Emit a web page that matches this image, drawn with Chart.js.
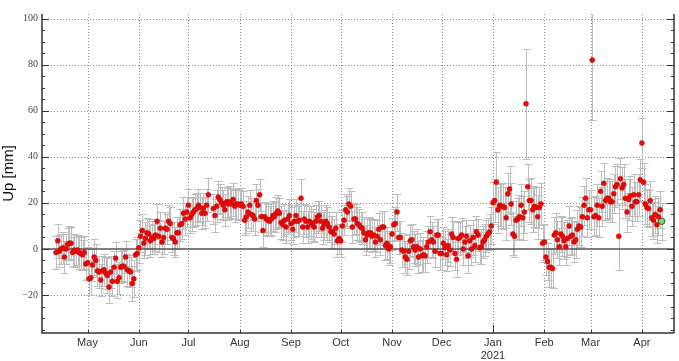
<!DOCTYPE html>
<html>
<head>
<meta charset="utf-8">
<script src="https://cdn.jsdelivr.net/npm/chart.js@4.4.0/dist/chart.umd.min.js"></script>
<style>
    html, body { margin: 0; padding: 0; background: #fff; }
    canvas { display: block; }
</style>
</head>
<body>
<canvas id="upChart" width="679" height="361"></canvas>
<script>
// day numbers count from 2020-04-01; first solution is 2020-04-12
const firstDay = 11;

// daily Up component [mm], one line per month, null = no solution
const upMm = [
    -1.5, 3.5, -1, 0, 0.5, -3.5, 0, 2, 2.5, 2.5, -1.5, -0.5, -1, -0.5, -1.5, -2, -2.5, -1.5, -6.5,
    -6, -13, -12.5, -7, -3.5, -5, -9.5, -10, -13.5, -9.5, -9, -10.5, -11.5, -16.5, -10, -14, -8, -4, -14, -12.5, -8, -7.5, -7.5, -3.5, -9, -9.5, -10, -15, -13, -2.5, -2,
    0.5, 5.5, 8, 2.5, 4.5, 7, 6.5, 3.5, 5, 4.5, 6, 12, 5.5, 9, 3, 5, 9, 8.5, 12, 11, 5, 4.5, 3, 7, 7, 10.5, 11, 15.5, 13, 16,
    19, 13.5, 15, 16, 17, 17.5, 19, 18, 15.5, 17.5, 15.5, 19, 23.5, null, null, 17.5, 14.5, 18.5, 22.5, 21.5, 20, 19, 17, 20.5, 19.5, 20.5, 19.5, 21.5, 18.5, 19.5, 19.5,
    19, 19.5, 18.5, 12.5, 14, 16, 19, 15, 14.5, 13, 21, 19, 23.5, 14, 8, 14, 13, 12.5, 12, 13, 14.5, 14, 15.5, 16.5, 15.5, 11.5, 10.5, 12.5, 9.5, 13, 14.5,
    11, 8.5, 12, 14.5, 12, 12.5, 22, 9.5, 13, 12, 9.5, 12, 11.5, 10.5, 9.5, 12, 14, 14.5, 12, 9, 10.5, 12, 11, 9.5, 7.5, 7.5, 6.5, 9, 3.5, 4.5,
    3.5, 10, 12.5, 17, 16, 19.5, 18.5, 9.5, 13, 13, 11, 10.5, 9.5, 9, 7, 4, 6, 7, 7, 5.5, 6, 3, 5.5, 8.5, 4, 9.5, 9.5, 1.5, 2.5, 0, 1,
    6.5, 10.5, 11, 16, 5, 5, -0.5, -1, -3.5, -4.5, -1, 3.5, 4, 1, -0.5, 1, -3.5, 0, -3, -2.5, -3, 1, 3, 7.5, 4, 3, -1, 6, 6, -2,
    -2, 2.5, 0.5, -2.5, 1.5, -0.5, 6.5, 5, -2, -4.5, 4.5, 5, 6, 0, 3, 5.5, -3, 3.5, 0, 5, 1.5, 7.5, 6, 0.5, 1, 3, 4, 5.5, 6.5, 7.5, 10,
    20, 21, 29, 17, 19, 18.5, 18.5, 18, 13.5, 24, 26, 19.5, 6.5, 5.5, 12.5, 13, 14, 19, 13.5, 16, 63, 27, 21, 21, 17, 18.5, 18, 14, 18, 19.5, 2.5,
    3, -3.5, -5.5, -8, -8, -8.5, 6, 7, 4, 1, 6.5, 5.5, 3.5, 1, 4.5, 10, 5.5, 6, 3, 4, 8.5, 10, 9.5, 14, 19, 22, 13.5, 17,
    17, 82, 14, 14.5, 19, 13.5, 25, 18.5, 28.5, 21, 22, 22, 20.5, 20.5, 24, 27, 28, 5.5, 30.5, 26.5, 28, 22, 16, 21.5, 23, 18.5, 23.5, 20.5, 20.5, 23.5, 30,
    46, 29, 19.5, 18, 17.5, 21, 13.5, 12.5, 15, 10.5, 14, 17, 12
];

// 1-sigma error [mm] for each day above
const sigmaMm = [
    7, 7.5, 7, 6.5, 7, 7, 6.5, 7, 7.5, 7, 6.5, 7, 7, 6.5, 7, 7, 6.5, 7, 7,
    7, 7, 7.5, 7, 8, 7, 6.5, 7, 7, 6.5, 7, 7, 7.5, 7, 7, 6.5, 7, 7, 7.5, 7, 7, 6.5, 7, 7, 7, 7, 6.5, 7.5, 8, 7, 7,
    6.5, 7, 7, 6.5, 7, 6.5, 6.5, 7, 7, 6.5, 7, 7.5, 7, 7, 6.5, 7, 7, 6.5, 7, 7, 6.5, 7, 6.5, 7, 7, 7, 6.5, 7, 7, 6.5,
    7, 6.5, 7, 6.5, 7, 7, 7, 6.5, 7, 7, 6.5, 7, 7.5, null, null, 6.5, 7, 7, 7, 6.5, 7, 6.5, 7, 6.5, 7, 7, 6.5, 7, 7, 6.5, 7,
    6.5, 7, 6.5, 6.5, 7, 7, 6.5, 7, 6.5, 7, 7, 7, 7, 6.5, 7, 6.5, 7, 7, 6.5, 7, 6.5, 6.5, 7, 7, 6.5, 7, 6.5, 7, 7, 6.5, 7,
    7, 6.5, 7, 7, 6.5, 7, 8.5, 7, 6.5, 7, 7, 6.5, 7, 7, 6.5, 7, 7, 6.5, 7, 7, 6.5, 7, 7, 6.5, 7, 7, 6.5, 7, 7, 6.5,
    7, 7, 6.5, 7, 7, 7, 6.5, 7, 7, 6.5, 7, 7, 6.5, 7, 7, 6.5, 7, 7, 6.5, 7, 7, 6.5, 7, 7, 6.5, 7, 7, 6.5, 7, 7, 7,
    7, 7, 7, 8, 7, 7, 7.5, 7, 7, 7, 7.5, 7, 7, 7, 7, 7.5, 7, 7, 7, 7.5, 7, 7, 7, 7, 7.5, 7, 7, 7, 7, 7,
    7, 7, 7.5, 7, 7, 7, 7.5, 7, 7, 7.5, 7, 7, 7.5, 7, 7, 7, 7.5, 7, 7, 7.5, 7, 7, 7, 7, 7.5, 7, 7, 7, 7, 7.5, 8,
    9, 9.5, 13, 10, 9, 9.5, 10, 9, 9.5, 9, 10, 9, 9, 9, 8.5, 9, 9.5, 9, 9.5, 9, 24, 10, 9.5, 10, 9.5, 9, 9, 9.5, 9, 9, 8,
    8, 8, 8, 8.5, 8.5, 8.5, 8, 8.5, 8, 8, 8, 8.5, 8, 8, 8, 8.5, 8, 8, 8.5, 8, 8.5, 8.5, 8.5, 8.5, 8.5, 9, 8.5, 8.5,
    8.5, 26, 8.5, 8.5, 9, 8.5, 9, 8.5, 9, 8.5, 9, 8.5, 9, 9, 8.5, 9, 9, 14.5, 9, 9, 9, 8.5, 8.5, 9, 8.5, 8.5, 9, 8.5, 8.5, 9, 9,
    11, 8.5, 8.5, 8, 8, 8.5, 8, 8, 8, 8, 8, 8, 8
];

const monthTickDays = [30, 61, 91, 122, 153, 183, 214, 244, 275, 306, 334, 365];
const monthTickLabels = ['May', 'Jun', 'Jul', 'Aug', 'Sep', 'Oct', 'Nov', 'Dec', 'Jan', 'Feb', 'Mar', 'Apr'];
const yearTickDay = 275;
const yearLabel = '2021';
const yTickValues = [-20, 0, 20, 40, 60, 80, 100];
const yMinorStep = 5;

const points = [];
upMm.forEach((v, i) => {
    if (v !== null) points.push({ x: firstDay + i, y: v, err: sigmaMm[i] });
});
const latest = points.pop();

const gridPlugin = {
    id: 'dottedGrid',
    beforeDatasetsDraw(chart) {
        const { ctx, chartArea: a, scales: { x, y } } = chart;
        ctx.save();
        ctx.strokeStyle = '#8c8c8c';
        ctx.lineWidth = 1;
        ctx.setLineDash([1, 2]);
        ctx.beginPath();
        yTickValues.forEach(v => {
            if (v === 0) return;
            const py = Math.round(y.getPixelForValue(v)) + 0.5;
            ctx.moveTo(a.left, py);
            ctx.lineTo(a.right, py);
        });
        monthTickDays.forEach(d => {
            const px = Math.round(x.getPixelForValue(d)) + 0.5;
            ctx.moveTo(px, a.top);
            ctx.lineTo(px, a.bottom);
        });
        ctx.stroke();
        ctx.restore();
    }
};

const errorBarPlugin = {
    id: 'errorBars',
    beforeDatasetsDraw(chart) {
        const { ctx, chartArea: a, scales: { x, y } } = chart;
        ctx.save();
        ctx.beginPath();
        ctx.rect(a.left, a.top, a.width, a.height);
        ctx.clip();
        ctx.strokeStyle = '#bdbdbd';
        ctx.lineWidth = 1;
        ctx.beginPath();
        chart.data.datasets.forEach(ds => {
            ds.data.forEach(p => {
                const px = Math.round(x.getPixelForValue(p.x)) + 0.5;
                const top = Math.round(y.getPixelForValue(p.y + p.err)) + 0.5;
                const bot = Math.round(y.getPixelForValue(p.y - p.err)) + 0.5;
                ctx.moveTo(px, top);
                ctx.lineTo(px, bot);
                ctx.moveTo(px - 4, top);
                ctx.lineTo(px + 4, top);
                ctx.moveTo(px - 4, bot);
                ctx.lineTo(px + 4, bot);
            });
        });
        ctx.stroke();
        // zero line
        const y0 = y.getPixelForValue(0);
        ctx.strokeStyle = '#555';
        ctx.lineWidth = 1.5;
        ctx.beginPath();
        ctx.moveTo(a.left, y0);
        ctx.lineTo(a.right, y0);
        ctx.stroke();
        ctx.restore();
    }
};

const framePlugin = {
    id: 'frame',
    afterDraw(chart) {
        const { ctx, chartArea: a, scales: { x, y } } = chart;
        ctx.save();
        ctx.strokeStyle = '#333';
        ctx.lineWidth = 1.5;
        ctx.beginPath();
        ctx.moveTo(a.left, a.top);
        ctx.lineTo(a.left, a.bottom);
        ctx.lineTo(a.right, a.bottom);
        ctx.moveTo(a.right, a.top);
        ctx.lineTo(a.right, a.bottom);
        ctx.stroke();

        ctx.lineWidth = 1;
        ctx.beginPath();
        for (let v = Math.ceil(y.min / yMinorStep) * yMinorStep; v <= y.max; v += yMinorStep) {
            const py = Math.round(y.getPixelForValue(v)) + 0.5;
            const len = yTickValues.includes(v) ? 7 : 3;
            ctx.moveTo(a.left, py);
            ctx.lineTo(a.left + len, py);
            ctx.moveTo(a.right, py);
            ctx.lineTo(a.right - len, py);
        }
        monthTickDays.forEach(d => {
            const px = Math.round(x.getPixelForValue(d)) + 0.5;
            const len = d === yearTickDay ? 8 : 3;
            ctx.moveTo(px, a.bottom);
            ctx.lineTo(px, a.bottom - len);
        });
        ctx.stroke();
        ctx.restore();
    }
};

new Chart(document.getElementById('upChart'), {
    type: 'scatter',
    data: {
        datasets: [
            {
                data: points,
                pointRadius: 2.5,
                pointBackgroundColor: '#e50a0a',
                pointBorderColor: '#d00000',
                pointBorderWidth: 0.5
            },
            {
                data: [latest],
                pointRadius: 3.2,
                pointBackgroundColor: '#7fd66e',
                pointBorderColor: '#2f5f2f',
                pointBorderWidth: 1
            }
        ]
    },
    options: {
        responsive: false,
        animation: false,
        events: [],
        layout: { padding: { left: 0, top: 14, right: 1, bottom: 0 } },
        plugins: {
            legend: { display: false },
            tooltip: { enabled: false }
        },
        scales: {
            x: {
                type: 'linear',
                min: 2.5,
                max: 384.4,
                grid: { display: false, drawTicks: false },
                border: { display: false },
                afterBuildTicks: scale => {
                    scale.ticks = monthTickDays.map(d => ({ value: d }));
                },
                afterFit: scale => { scale.height = 28; },
                ticks: {
                    autoSkip: false,
                    maxRotation: 0,
                    padding: 3,
                    color: '#333',
                    font: { family: 'Liberation Sans', size: 11 },
                    callback: value => {
                        const label = monthTickLabels[monthTickDays.indexOf(value)];
                        return value === yearTickDay ? [label, yearLabel] : label;
                    }
                }
            },
            y: {
                min: -36.5,
                max: 102,
                grid: { display: false, drawTicks: false },
                border: { display: false },
                afterBuildTicks: scale => {
                    scale.ticks = yTickValues.map(v => ({ value: v }));
                },
                afterFit: scale => { scale.width = 42; },
                title: {
                    display: true,
                    text: 'Up [mm]',
                    color: '#111',
                    padding: 0,
                    font: { family: 'Liberation Sans', size: 15 }
                },
                ticks: {
                    padding: 4,
                    color: '#444',
                    font: { family: 'Liberation Serif', size: 10 },
                    callback: v => (v < 0 ? '\u2212' + (-v) : String(v))
                }
            }
        }
    },
    plugins: [gridPlugin, errorBarPlugin, framePlugin]
});
</script>
</body>
</html>
